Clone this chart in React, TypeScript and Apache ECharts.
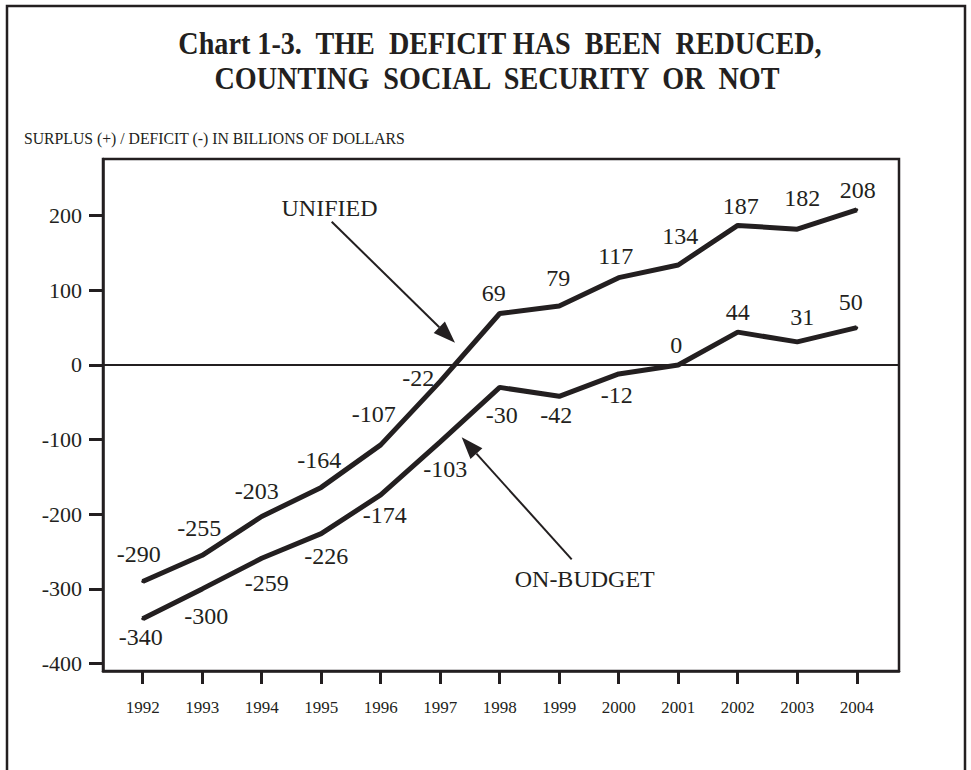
import React, { useEffect, useRef } from "react";
import * as echarts from "echarts";

const years = [1992, 1993, 1994, 1995, 1996, 1997, 1998, 1999, 2000, 2001, 2002, 2003, 2004];
const unified = [-290, -255, -203, -164, -107, -22, 69, 79, 117, 134, 187, 182, 208];
const onBudget = [-340, -300, -259, -226, -174, -103, -30, -42, -12, 0, 44, 31, 50];
const yTicks = [-400, -300, -200, -100, 0, 100, 200];

const titleLines = ["Chart 1-3.  THE  DEFICIT HAS  BEEN  REDUCED,", "COUNTING  SOCIAL  SECURITY  OR  NOT"];
const yAxisTitle = "SURPLUS (+) / DEFICIT (-) IN BILLIONS OF DOLLARS";

// label placement (layout only): [dx, dy] from each point
const unifiedLabelOffsets = [
  [-4, -27], [-3, -27], [-5, -26], [-2, -27], [-7, -31], [-22, -3], [-6, -20],
  [-1, -28], [-3, -22], [2, -29], [3, -19], [5, -31], [1, -20],
];
const onBudgetLabelOffsets = [
  [-2, 18], [4, 27], [5, 25], [5, 22], [4, 20], [5, 27], [2, 28],
  [-3, 19], [-2, 21], [-2, -20], [0, -20], [5, -25], [-6, -26],
];

const INK = "#231f20";
const FONT = '"Liberation Serif", "Times New Roman", serif';

function arrow(sx: number, sy: number, tx: number, ty: number) {
  const dx = tx - sx, dy = ty - sy;
  const len = Math.hypot(dx, dy);
  const ux = dx / len, uy = dy / len;
  const hl = 22, hw = 8;
  const bx = tx - hl * ux, by = ty - hl * uy;
  const nx = -uy, ny = ux;
  return [
    { type: "line", shape: { x1: sx, y1: sy, x2: bx, y2: by }, style: { stroke: INK, lineWidth: 2 }, silent: true },
    {
      type: "polygon",
      shape: { points: [[tx, ty], [bx + hw * nx, by + hw * ny], [bx - hw * nx, by - hw * ny]] },
      style: { fill: INK },
      silent: true,
    },
  ];
}

export default function App() {
  const ref = useRef<HTMLDivElement>(null);
  useEffect(() => {
    document.body.style.margin = "0";
    if (!ref.current) return;
    const chart = echarts.init(ref.current, undefined, { renderer: "svg" });

    const mk = (vals: number[], offs: number[][]) =>
      vals.map((v, i) => ({ value: [years[i], v], label: { offset: offs[i] } }));

    const labelCfg = {
      show: true,
      position: "inside",
      align: "center",
      verticalAlign: "middle",
      fontFamily: FONT,
      fontSize: 24,
      color: INK,
      formatter: (p: any) => String(p.value[1]),
    };

    chart.setOption({
      animation: false,
      backgroundColor: "#ffffff",
      grid: {
        left: 103, top: 159, right: 72, bottom: 99,
        show: true, borderColor: INK, borderWidth: 2.5, backgroundColor: "transparent",
      },
      xAxis: {
        type: "value",
        min: 1991.333,
        max: 2004.71,
        axisLine: { show: true, onZero: false, lineStyle: { color: INK, width: 2.5 } },
        axisTick: { show: true, customValues: years, length: 13, lineStyle: { color: INK, width: 3 } },
        axisLabel: {
          customValues: years, margin: 28, fontFamily: FONT, fontSize: 17, color: INK,
          formatter: (v: number) => String(v),
        },
        splitLine: { show: false },
      },
      yAxis: {
        type: "value",
        min: -410,
        max: 276,
        axisLine: { show: true, onZero: false, lineStyle: { color: INK, width: 2.5 } },
        axisTick: { show: true, customValues: yTicks, length: 14, lineStyle: { color: INK, width: 3 } },
        axisLabel: {
          customValues: yTicks, margin: 21, fontFamily: FONT, fontSize: 22, color: INK,
          formatter: (v: number) => String(v),
        },
        splitLine: { show: false },
      },
      series: [
        {
          name: "UNIFIED",
          type: "line",
          data: mk(unified, unifiedLabelOffsets),
          symbol: "circle",
          symbolSize: 3,
          itemStyle: { color: INK },
          lineStyle: { color: INK, width: 5 },
          label: labelCfg,
          z: 3,
          markLine: {
            silent: true,
            symbol: ["none", "none"],
            label: { show: false },
            lineStyle: { color: INK, width: 2, type: "solid" },
            data: [{ yAxis: 0 }],
            z: 1,
          },
        },
        {
          name: "ON-BUDGET",
          type: "line",
          data: mk(onBudget, onBudgetLabelOffsets),
          symbol: "circle",
          symbolSize: 3,
          itemStyle: { color: INK },
          lineStyle: { color: INK, width: 5 },
          label: labelCfg,
          z: 3,
        },
      ],
      graphic: [
        {
          type: "rect",
          shape: { x: 7, y: 6, width: 958, height: 820 },
          style: { fill: "none", stroke: INK, lineWidth: 2.5 },
          silent: true,
          z: -1,
        },
        {
          type: "text",
          x: 500, y: 43, scaleX: 0.88,
          style: { text: titleLines[0], font: `bold 32px ${FONT}`, fill: INK, align: "center", verticalAlign: "middle" },
        },
        {
          type: "text",
          x: 497, y: 78, scaleX: 0.88,
          style: { text: titleLines[1], font: `bold 32px ${FONT}`, fill: INK, align: "center", verticalAlign: "middle" },
        },
        {
          type: "text",
          x: 24, y: 138, scaleX: 0.9,
          style: { text: yAxisTitle, font: `17.5px ${FONT}`, fill: INK, align: "left", verticalAlign: "middle" },
        },
        {
          type: "text",
          x: 329.5, y: 208,
          style: { text: "UNIFIED", font: `24px ${FONT}`, fill: INK, align: "center", verticalAlign: "middle" },
        },
        {
          type: "text",
          x: 584.7, y: 579,
          style: { text: "ON-BUDGET", font: `24px ${FONT}`, fill: INK, align: "center", verticalAlign: "middle" },
        },
        ...arrow(331.7, 221.7, 455, 342.7),
        ...arrow(571.7, 559.3, 461.7, 437.3),
      ],
    });
    return () => chart.dispose();
  }, []);
  return <div ref={ref} style={{ width: 971, height: 770 }} />;
}
